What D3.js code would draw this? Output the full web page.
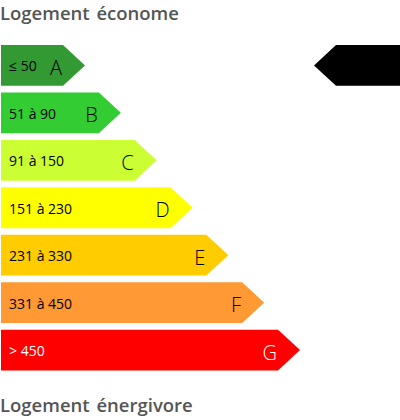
<!DOCTYPE html>
<html><head><meta charset="utf-8">
<script src="https://cdn.jsdelivr.net/npm/d3@7"></script>
<style>body{margin:0;background:#fff;}svg{display:block;}</style>
</head><body>
<svg id="c" width="400" height="420"></svg>
<script>
const classes = ["A","B","C","D","E","F","G"];
const ranges = ["≤ 50","51 à 90","91 à 150","151 à 230","231 à 330","331 à 450","> 450"];
const colors = ["#339933","#33cc33","#ccff33","#ffff00","#ffcc00","#ff9933","#ff0000"];
const textColors = ["#000","#000","#000","#000","#000","#000","#fff"];
const rank = [1,2,3,4,5,6,7];
const currentClass = "A";
const titleTop = "Logement économe";
const titleBottom = "Logement énergivore";

const svg = d3.select("#c");
const y = d3.scaleBand().domain(classes).range([45,370.5]).paddingInner(0.14).paddingOuter(0);
const x = d3.scaleLinear().domain([1,7]).range([63,278]);
const tip = 22, x0 = 1;
const bh = y.bandwidth();

const font = "'Open Sans', sans-serif";
const titleFont = "'Open Sans', sans-serif";

svg.append("text").attr("x",0).attr("y",19.5).text(titleTop)
  .attr("font-family",titleFont).attr("font-size",18.5).attr("font-weight",600)
  .attr("word-spacing",2).attr("fill","#555");
svg.append("text").attr("x",0).attr("y",411.5).text(titleBottom)
  .attr("font-family",titleFont).attr("font-size",18.5).attr("font-weight",600)
  .attr("word-spacing",2).attr("fill","#555");

const g = svg.selectAll("g.bar").data(classes).join("g").attr("class","bar");
g.append("path")
  .attr("d",(d,i)=>{const t=y(d), r=x(rank[i]);
    return `M${x0},${t}H${r}L${r+tip},${t+bh/2}L${r},${t+bh}H${x0}Z`;})
  .attr("fill",(d,i)=>colors[i]);
g.append("text").attr("x",9).attr("y",d=>y(d)+bh/2+6).text((d,i)=>ranges[i])
  .attr("font-family",font).attr("font-size",14).attr("fill",(d,i)=>textColors[i]);
g.append("text").attr("x",(d,i)=>x(rank[i])-1).attr("y",d=>y(d)+bh/2+9.5).text(d=>d)
  .attr("text-anchor","end").attr("font-family",font).attr("font-size",20).attr("font-weight",300)
  .attr("fill",(d,i)=>textColors[i]);

// indicator
const it = y(currentClass);
svg.append("path")
  .attr("d",`M400,${it}H336L314,${it+bh/2}L336,${it+bh}H400Z`)
  .attr("fill","#000");
</script>
</body></html>
